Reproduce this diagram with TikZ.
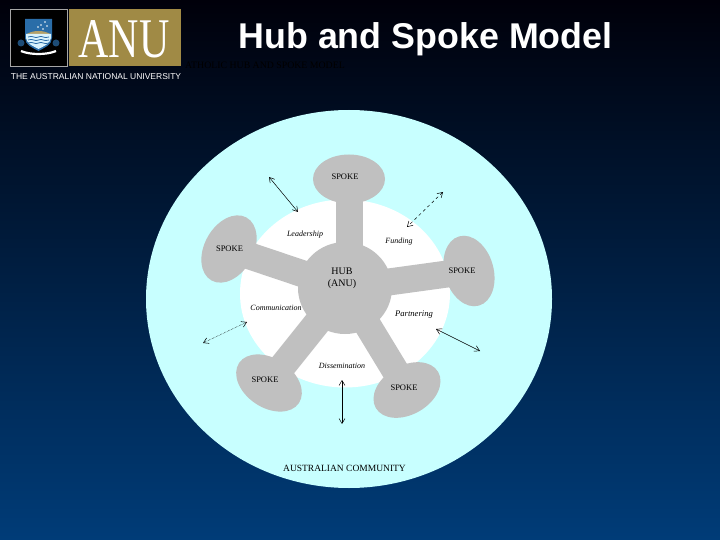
\documentclass[tikz,border=0pt]{standalone}
\usepackage{fontspec}
\usepackage{tikz}
\usepackage{xcolor}
\usetikzlibrary{shapes.geometric, arrows.meta, positioning, calc}
\setsansfont{Liberation Sans}
\setmainfont{Liberation Serif}
\definecolor{ANU_Gold}{HTML}{A08A45}
\definecolor{Pale_Cyan}{HTML}{C8FFFF}
\definecolor{Spoke_Gray}{HTML}{C0C0C0}
\definecolor{Slide_Top}{HTML}{00000A}
\definecolor{Slide_Mid}{HTML}{002E5E}
\definecolor{Slide_Bottom}{HTML}{003C78}
\definecolor{Crest_Blue}{HTML}{2A6DA8}
\tikzset{
    spokeblob/.style={ellipse, fill=Spoke_Gray, minimum width=72pt, minimum height=49pt, inner sep=0pt},
    spokebar/.style={Spoke_Gray, line width=27pt},
    spoketext/.style={font=\fontsize{8.5}{8.5}\selectfont, black},
    roletext/.style={font=\itshape\fontsize{8}{8}\selectfont, black},
    linkarrow/.style={{Straight Barb[length=5pt,width=6pt]}-{Straight Barb[length=5pt,width=6pt]}, black, line width=0.5pt},
    waveline/.style={Crest_Blue, line width=0.8pt}
}
\begin{document}
\begin{tikzpicture}[x=1pt, y=-1pt]
    \useasboundingbox (0,0) rectangle (720,540);

    % Slide background
    \shade[top color=Slide_Top, middle color=Slide_Mid, bottom color=Slide_Bottom] (0,0) rectangle (720,540);

    % Logo
    \fill[ANU_Gold] (69,9) rectangle (181,66);
    \fill[black] (10.5,9.5) rectangle (67,66);
    \draw[gray!70, line width=0.5pt] (10.5,9.5) rectangle (67,66);
    \fill[Crest_Blue] (25,19) -- (52,19) -- (52,38) .. controls (52,45) and (44,48) .. (38.5,51) .. controls (33,48) and (25,45) .. (25,38) -- cycle;
    \fill[ANU_Gold!80!white] (27,34) .. controls (33,30) and (44,30) .. (50,34) -- cycle;
    \fill[white!85!cyan] (26,34) -- (51,34) -- (51,38) .. controls (50,44) and (44,46) .. (38.5,49) .. controls (33,46) and (27,44) .. (26,38) -- cycle;
    \foreach \y in {37,40,43} {
        \draw[waveline] (28,\y) .. controls (33,\y-2) and (35,\y+2) .. (38.5,\y) .. controls (42,\y-2) and (44,\y+2) .. (49,\y);
    }
    \foreach \x/\y in {45/22,41/25,47/26,43/29,38/27} {
        \fill[white] (\x,\y) circle (0.9);
    }
    \draw[white, line width=2.2pt] (21,51) .. controls (30,55) and (47,55) .. (56,51);
    \fill[Crest_Blue!70!black] (21,43) circle (3.5) (56,43) circle (3.5);
    \node[font=\fontsize{56}{56}\selectfont, white, inner sep=0pt, xscale=0.75] (anu) at (124,39) {ANU};
    \node[font=\sffamily\fontsize{8.5}{8.5}\selectfont, white, inner sep=0pt] (university) at (96,77) {THE AUSTRALIAN NATIONAL UNIVERSITY};

    % Title and the line behind it
    \node[font=\sffamily\bfseries\fontsize{35.8}{35.8}\selectfont, white, inner sep=0pt] (title) at (425.5,39.5) {Hub and Spoke Model};
    \node[font=\fontsize{9.8}{9.8}\selectfont, black, inner sep=0pt] (subtitle) at (265,65) {ATHOLIC HUB AND SPOKE MODEL};

    % Community and hub area
    \node[ellipse, fill=Pale_Cyan, minimum width=406pt, minimum height=378pt, inner sep=0pt] (community) at (349,299) {};
    \node[ellipse, fill=white, minimum width=210pt, minimum height=188pt, inner sep=0pt] (area) at (345,293.5) {};

    % Spokes
    \node[spokeblob] (spokeT) at (349,179) {};
    \node[spokeblob, rotate=61] (spokeL) at (229,249) {};
    \node[spokeblob, rotate=106] (spokeR) at (469,271) {};
    \node[spokeblob, rotate=-34] (spokeBL) at (269,383) {};
    \node[spokeblob, rotate=30] (spokeBR) at (407,390) {};
    \node[ellipse, fill=Spoke_Gray, minimum width=94pt, minimum height=92pt, inner sep=0pt] (hub) at (345,288) {};
    \draw[spokebar] (spokeT.center) -- (spokeT.center |- hub.center);
    \foreach \s in {spokeL,spokeR,spokeBL,spokeBR} {
        \draw[spokebar] (hub.center) -- (\s.center);
    }

    % Spoke labels
    \node[spoketext] (labelT) at (345,177) {SPOKE};
    \node[spoketext] (labelL) at (229.5,249) {SPOKE};
    \node[spoketext] (labelR) at (462,271) {SPOKE};
    \node[spoketext] (labelBL) at (265,380) {SPOKE};
    \node[spoketext] (labelBR) at (404,388) {SPOKE};
    \node[align=center, font=\fontsize{10}{12}\selectfont, black] (labelHub) at (342,278.5) {HUB\\(ANU)};

    % Roles
    \node[roletext] (leadership) at (305,235) {Leadership};
    \node[roletext] (funding) at (399,242) {Funding};
    \node[roletext] (communication) at (276,308) {Communication};
    \node[roletext, font=\itshape\fontsize{8.6}{8.6}\selectfont] (partnering) at (414,315) {Partnering};
    \node[roletext] (dissemination) at (342,366) {Dissemination};
    \node[font=\fontsize{9.5}{9.5}\selectfont, black] (australia) at (344.5,468) {AUSTRALIAN COMMUNITY};

    % Arrows
    \coordinate (a1) at (269,177); \coordinate (a2) at (298,212);
    \coordinate (b1) at (443,192); \coordinate (b2) at (407,227);
    \coordinate (c1) at (247,322); \coordinate (c2) at (203,343);
    \coordinate (d1) at (436,329); \coordinate (d2) at (480,351);
    \coordinate (e1) at (342,380); \coordinate (e2) at (342,424);
    \draw[linkarrow] (a1) -- (a2);
    \draw[linkarrow, dashed] (b1) -- (b2);
    \draw[linkarrow, densely dotted] (c1) -- (c2);
    \draw[linkarrow] (d1) -- (d2);
    \draw[linkarrow] (e1) -- (e2);
\end{tikzpicture}
\end{document}
